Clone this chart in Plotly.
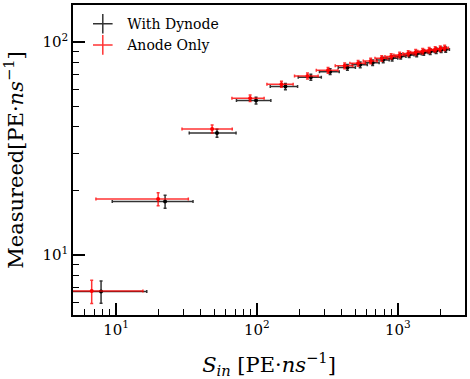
import plotly.graph_objects as go

# With Dynode (black)
dyn_x = [7.83, 22.3, 52.1, 98.6, 159.4, 241.5, 331, 439, 541, 663, 788, 912,
         1049, 1205, 1362, 1528, 1699, 1874, 2033, 2189]
dyn_y = [6.73, 17.8, 37.3, 53.0, 61.7, 68.3, 72.5, 75.9, 78.0, 79.9, 82.3, 83.8,
         85.5, 86.9, 87.8, 89.0, 89.9, 90.9, 91.7, 92.1]
dyn_xerr = [8.7, 12.9, 19.0, 27, 35, 45, 53, 61, 67, 74, 81, 88,
            94, 100, 107, 113, 119, 125, 131, 136]
dyn_yerr = [0.8, 1.25, 1.6, 1.9, 2.1, 2.2, 2.3, 2.35, 2.4, 2.4, 2.45, 2.5,
            2.5, 2.5, 2.55, 2.55, 2.6, 2.6, 2.6, 2.6]

# Anode Only (red)
ano_x = [6.72, 19.9, 48.1, 89.5, 149.3, 228.5, 320, 419.7, 523, 642, 769, 898,
         1031, 1186, 1340, 1502, 1671, 1843, 2001, 2153]
ano_y = [6.76, 18.3, 39.0, 54.4, 63.3, 69.2, 73.5, 77.2, 79.3, 81.4, 83.7, 85.5,
         86.9, 88.3, 89.5, 90.4, 91.4, 92.2, 92.9, 93.7]
ano_xerr = [8.8, 12.7, 18.7, 23, 31.5, 43.5, 56, 60, 66, 73, 80, 87,
            93, 99, 106, 112, 118, 124, 129, 135]
ano_yerr = [0.85, 1.3, 1.7, 1.9, 2.1, 2.2, 2.3, 2.35, 2.4, 2.45, 2.5, 2.5,
            2.55, 2.55, 2.6, 2.6, 2.6, 2.65, 2.65, 2.7]

series = [
    ("With Dynode", dyn_x, dyn_y, dyn_xerr, dyn_yerr, "rgba(0,0,0,0.8)", "black"),
    ("Anode Only", ano_x, ano_y, ano_xerr, ano_yerr, "rgba(255,0,0,0.8)", "red"),
]

tick_vals = [10, 100, 1000]
x_tick_text = ["10<sup>1</sup>", "10<sup>2</sup>", "10<sup>3</sup>"]
y_tick_vals = [10, 100]
y_tick_text = ["10<sup>1</sup>", "10<sup>2</sup>"]
minor_vals = [m * d for d in (1, 10, 100, 1000) for m in range(2, 10)]

SERIF = "DejaVu Serif"
GAP = "\u00a0"  # push legend text right of the cross glyph

fig = go.Figure()
for name, x, y, xe, ye, col, solid in series:
    fig.add_trace(go.Scatter(
        x=x, y=y, mode="markers", showlegend=False,
        marker=dict(size=4, color=solid),
        error_x=dict(type="data", array=xe, color=col, thickness=1.5, width=1.5),
        error_y=dict(type="data", array=ye, color=col, thickness=1.5, width=1.5),
    ))

# legend glyphs mimic errorbar crosses
for name, x, y, xe, ye, col, solid in series:
    fig.add_trace(go.Scatter(
        x=[None], y=[None], mode="markers", name=GAP + name,
        marker=dict(symbol="cross-thin", size=14, color=col,
                    line=dict(width=1.5, color=col)),
    ))

axis_common = dict(
    type="log", showline=True, linecolor="black", linewidth=1.5, mirror=True,
    ticks="inside", ticklen=12, tickwidth=1.5, tickcolor="black",
    showgrid=False, zeroline=False, automargin=False,
    tickfont=dict(family=SERIF, size=15, color="black"),
    minor=dict(ticks="inside", ticklen=6, tickwidth=1, tickcolor="black",
               tickvals=minor_vals, showgrid=False),
)

fig.update_xaxes(
    **axis_common, range=[0.6946, 3.4771],
    tickvals=tick_vals, ticktext=x_tick_text,
    title=dict(text="<i>S<sub>in</sub></i> [PE·<i>ns</i><sup>−1</sup>]",
               font=dict(family=SERIF, size=21, color="black"), standoff=21),
)
fig.update_yaxes(
    **axis_common, range=[0.7177, 2.1732],
    tickvals=y_tick_vals, ticktext=y_tick_text,
    title=dict(text="Measureed[PE·<i>ns</i><sup>−1</sup>]",
               font=dict(family=SERIF, size=21, color="black"), standoff=15),
)

fig.update_layout(
    width=470, height=379,
    margin=dict(l=73, r=5, t=5, b=64),
    plot_bgcolor="white", paper_bgcolor="white",
    font=dict(family=SERIF, color="black"),
    legend=dict(x=0.025, y=0.99, xanchor="left", yanchor="top",
                bgcolor="rgba(0,0,0,0)", font=dict(family=SERIF, size=14),
                tracegroupgap=0),
)

fig.write_html("out.html", config={"displayModeBar": False},
               post_script="document.body.style.margin='0px';")
